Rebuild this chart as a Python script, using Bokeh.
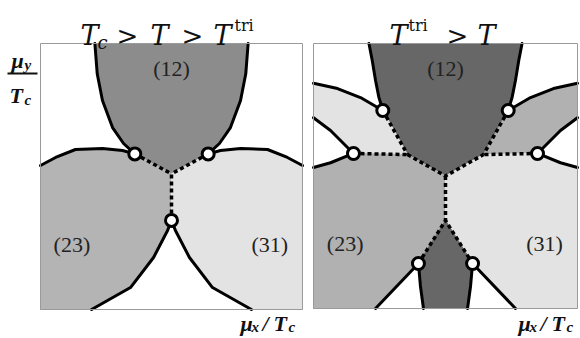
from bokeh.plotting import figure
from bokeh.models import Range1d, Label
from bokeh.layouts import row
from bokeh.embed import file_html
from bokeh.resources import INLINE

# ---------------- data (units of mu/Tc, each panel spans [-1, 1]) ----------------
# Left panel: Tc > T > T^tri
a12_left_x = [-0.585, -0.567, -0.527, -0.450, -0.366, -0.280]
a12_left_y = [1.000, 0.772, 0.571, 0.368, 0.248, 0.170]
a12_right_x = [0.585, 0.567, 0.527, 0.450, 0.366, 0.280]
a12_right_y = [1.000, 0.772, 0.571, 0.368, 0.248, 0.170]
a23_top_x = [-1.000, -0.885, -0.733, -0.527, -0.374, -0.280]
a23_top_y = [0.083, 0.143, 0.203, 0.211, 0.195, 0.170]
a31_top_x = [1.000, 0.885, 0.733, 0.527, 0.374, 0.280]
a31_top_y = [0.083, 0.143, 0.203, 0.211, 0.195, 0.170]
a23_bot_x = [0.000, -0.030, -0.137, -0.313, -0.610]
a23_bot_y = [-0.330, -0.406, -0.609, -0.835, -1.000]
a31_bot_x = [0.000, 0.030, 0.137, 0.313, 0.610]
a31_bot_y = [-0.330, -0.406, -0.609, -0.835, -1.000]
a_junction = [0.0, 0.02]
a_points_x = [-0.280, 0.280, 0.000]
a_points_y = [0.170, 0.170, -0.330]

# Right panel: T^tri > T
b12_left_x = [-0.580, -0.555, -0.530, -0.505, -0.475]
b12_left_y = [1.000, 0.872, 0.721, 0.595, 0.494]
b12_right_x = [0.580, 0.555, 0.530, 0.505, 0.475]
b12_right_y = [1.000, 0.872, 0.721, 0.595, 0.494]
bUL_top_x = [-1.000, -0.818, -0.644, -0.475]
bUL_top_y = [0.700, 0.660, 0.592, 0.494]
bUR_top_x = [1.000, 0.818, 0.644, 0.475]
bUR_top_y = [0.700, 0.660, 0.592, 0.494]
bUL_low_x = [-1.000, -0.871, -0.697]
bUL_low_y = [0.440, 0.343, 0.170]
bUR_low_x = [1.000, 0.871, 0.697]
bUR_low_y = [0.440, 0.343, 0.170]
b23_top_x = [-1.000, -0.871, -0.697]
b23_top_y = [0.064, 0.100, 0.170]
b31_top_x = [1.000, 0.871, 0.697]
b31_top_y = [0.064, 0.100, 0.170]
bdark_left_x = [-0.205, -0.190, -0.167]
bdark_left_y = [-0.660, -0.830, -1.000]
bdark_right_x = [0.205, 0.190, 0.167]
bdark_right_y = [-0.660, -0.830, -1.000]
bwedge_left_x = [-0.205, -0.530]
bwedge_left_y = [-0.660, -1.000]
bwedge_right_x = [0.205, 0.530]
bwedge_right_y = [-0.660, -1.000]
b_triple_x = [-0.288, 0.288]
b_triple_y = [0.162, 0.162]
b_junction = [0.0, 0.0]
b_junction2 = [0.0, -0.336]
b_points_x = [-0.475, 0.475, -0.697, 0.697, -0.205, 0.205]
b_points_y = [0.494, 0.494, 0.170, 0.170, -0.660, -0.660]

region_names = ["(12)", "(23)", "(31)"]
region_x = [0.0, -0.76, 0.75]
region_y = [0.81, -0.51, -0.51]

GRAY_A = {"12": "#8c8c8c", "23": "#b4b4b4", "31": "#e3e3e3"}
GRAY_B = {"12": "#676767", "23": "#b1b1b1", "31": "#e3e3e3"}

# ---------------- layout helpers (reference pixel -> page) ----------------
H = 338
W1 = 307
W2 = 580 - W1
SERIF = "Liberation Serif"
MATH = "DejaVu Serif"


def make_fig(left_abs, width, box):
    L, R, T, B = box
    cL = L - left_abs
    cR = R - left_abs
    cT = T
    cB = B
    kx = 2 / (cR - cL)
    ky = 2 / (cB - cT)
    p = figure(width=width, height=H, output_backend="svg", toolbar_location=None,
               x_range=Range1d(-1 - cL * kx, -1 + (width - cL) * kx),
               y_range=Range1d(1 - (H - cT) * ky, 1 + cT * ky),
               x_axis_type=None, y_axis_type=None, min_border=0,
               outline_line_color=None, tools="")
    p.background_fill_color = "white"
    p.border_fill_color = "white"

    def conv(rx, ry):
        return (-1 + (rx - left_abs - cL) * kx, 1 - (ry - cT) * ky)
    return p, conv


def txt(p, conv, rx, ry, text, size, style="italic", font=SERIF, align="left",
        baseline="alphabetic", color="#111111"):
    x, y = conv(rx, ry)
    p.add_layout(Label(x=x, y=y, text=text, text_font=font, text_font_style=style,
                       text_font_size=f"{size}px", text_align=align, text_baseline=baseline,
                       text_color=color))


def solid(p, xs, ys):
    p.multi_line(xs=xs, ys=ys, line_color="black", line_width=3,
                 line_cap="round", line_join="round")


def dashed(p, xs, ys):
    p.multi_line(xs=xs, ys=ys, line_color="black", line_width=3.5,
                 line_dash="4 3", line_cap="butt")


def frame_box(p):
    p.multi_line(xs=[[-1, 1, 1, -1, -1]], ys=[[-1, -1, 1, 1, -1]],
                 line_color="#9a9a9a", line_width=1)


def region_labels(p):
    for name, x, y in zip(region_names, region_x, region_y):
        p.add_layout(Label(x=x, y=y, text=name, text_font=SERIF, text_font_size="22px",
                           text_align="center", text_baseline="middle", text_color="#222222"))


def rev(a):
    return list(reversed(a))


# ---------------- left panel ----------------
p1, c1 = make_fig(0, W1, (40, 302, 43, 309))
jx, jy = a_junction
p1.patches(
    xs=[a12_left_x + [jx] + rev(a12_right_x),
        [-1.0] + a23_top_x + [jx] + a23_bot_x,
        [1.0] + a31_top_x + [jx] + a31_bot_x],
    ys=[a12_left_y + [jy] + rev(a12_right_y),
        [-1.0] + a23_top_y + [jy] + a23_bot_y,
        [-1.0] + a31_top_y + [jy] + a31_bot_y],
    fill_color=[GRAY_A["12"], GRAY_A["23"], GRAY_A["31"]],
    line_color=[GRAY_A["12"], GRAY_A["23"], GRAY_A["31"]], line_width=1)
solid(p1, [a12_left_x, a12_right_x, a23_top_x, a31_top_x, a23_bot_x, a31_bot_x],
      [a12_left_y, a12_right_y, a23_top_y, a31_top_y, a23_bot_y, a31_bot_y])
dashed(p1, [[a_points_x[i], jx] for i in range(3)], [[a_points_y[i], jy] for i in range(3)])
p1.scatter(a_points_x, a_points_y, size=12, fill_color="white", line_color="black", line_width=3)
frame_box(p1)
region_labels(p1)

# title T_c > T > T^tri
txt(p1, c1, 80, 35, "T", 27, font=MATH)
txt(p1, c1, 97, 42, "c", 18, font=MATH)
txt(p1, c1, 116, 35, ">", 26, style="normal", font=MATH)
txt(p1, c1, 150, 35, "T", 27, font=MATH)
txt(p1, c1, 181, 35, ">", 26, style="normal", font=MATH)
txt(p1, c1, 213, 35, "T", 27, font=MATH)
txt(p1, c1, 234, 25, "tri", 16, style="normal", font=MATH)
# y label mu_y / T_c
txt(p1, c1, 11, 60, "μ", 22, style="bold italic")
txt(p1, c1, 24, 64, "y", 15, style="bold italic")
bx0, by0 = c1(7, 73)
bx1, _ = c1(37, 73)
p1.segment(x0=[bx0], y0=[by0], x1=[bx1], y1=[by0], line_color="#111111", line_width=2)
txt(p1, c1, 9, 95, "T", 22, style="bold italic")
txt(p1, c1, 24, 99, "c", 15, style="bold italic")
# x label
txt(p1, c1, 240, 323, "μ", 22, style="bold italic")
txt(p1, c1, 251, 326, "x", 15, style="bold italic")
txt(p1, c1, 262, 323, "/", 22, style="bold italic")
txt(p1, c1, 273, 323, "T", 22, style="bold italic")
txt(p1, c1, 288, 326, "c", 15, style="bold italic")

# ---------------- right panel ----------------
p2, c2 = make_fig(W1, W2, (313, 577, 43, 308))
Jx, Jy = b_junction
J2x, J2y = b_junction2
T1x, T2x = b_triple_x
T1y, T2y = b_triple_y
p2.patches(
    xs=[b12_left_x + [T1x, Jx, T2x] + rev(b12_right_x),
        bUL_top_x + [T1x] + rev(bUL_low_x),
        bUR_top_x + [T2x] + rev(bUR_low_x),
        [-1.0] + b23_top_x + [T1x, Jx, J2x] + bwedge_left_x,
        [1.0] + b31_top_x + [T2x, Jx, J2x] + bwedge_right_x,
        [J2x] + bdark_left_x + rev(bdark_right_x)],
    ys=[b12_left_y + [T1y, Jy, T2y] + rev(b12_right_y),
        bUL_top_y + [T1y] + rev(bUL_low_y),
        bUR_top_y + [T2y] + rev(bUR_low_y),
        [-1.0] + b23_top_y + [T1y, Jy, J2y] + bwedge_left_y,
        [-1.0] + b31_top_y + [T2y, Jy, J2y] + bwedge_right_y,
        [J2y] + bdark_left_y + rev(bdark_right_y)],
    fill_color=[GRAY_B["12"], GRAY_B["31"], GRAY_B["23"], GRAY_B["23"], GRAY_B["31"], GRAY_B["12"]],
    line_color=[GRAY_B["12"], GRAY_B["31"], GRAY_B["23"], GRAY_B["23"], GRAY_B["31"], GRAY_B["12"]],
    line_width=1)
solid(p2, [b12_left_x, b12_right_x, bUL_top_x, bUR_top_x, bUL_low_x, bUR_low_x,
           b23_top_x, b31_top_x, bdark_left_x, bdark_right_x, bwedge_left_x, bwedge_right_x],
      [b12_left_y, b12_right_y, bUL_top_y, bUR_top_y, bUL_low_y, bUR_low_y,
       b23_top_y, b31_top_y, bdark_left_y, bdark_right_y, bwedge_left_y, bwedge_right_y])
dashed(p2,
       [[b_points_x[0], T1x], [b_points_x[2], T1x], [T1x, Jx, T2x], [b_points_x[1], T2x],
        [b_points_x[3], T2x], [Jx, J2x], [b_points_x[4], J2x, b_points_x[5]]],
       [[b_points_y[0], T1y], [b_points_y[2], T1y], [T1y, Jy, T2y], [b_points_y[1], T2y],
        [b_points_y[3], T2y], [Jy, J2y], [b_points_y[4], J2y, b_points_y[5]]])
p2.scatter(b_points_x, b_points_y, size=12, fill_color="white", line_color="black", line_width=3)
frame_box(p2)
region_labels(p2)

# title T^tri > T
txt(p2, c2, 389, 35, "T", 27, font=MATH)
txt(p2, c2, 408, 25, "tri", 16, style="normal", font=MATH)
txt(p2, c2, 446, 35, ">", 26, style="normal", font=MATH)
txt(p2, c2, 477, 35, "T", 27, font=MATH)
# x label
txt(p2, c2, 518, 323, "μ", 22, style="bold italic")
txt(p2, c2, 529, 326, "x", 15, style="bold italic")
txt(p2, c2, 540, 323, "/", 22, style="bold italic")
txt(p2, c2, 551, 323, "T", 22, style="bold italic")
txt(p2, c2, 566, 326, "c", 15, style="bold italic")

layout = row(p1, p2, spacing=0)
open("out.html", "w").write(file_html(layout, INLINE))
